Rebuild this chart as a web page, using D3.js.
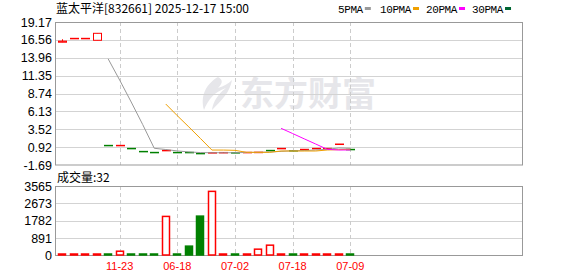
<!DOCTYPE html>
<html>
    <head>
        <title>K线</title>
        <script src="https://d3js.org/d3.v7.min.js"></script>
        <meta charset="UTF-8">
        <style>
            body { margin: 0; background: #fff; }
        </style>
    </head>
    <body>
        <script>
            var w = 578;
            var h = 276;

            // candles (index 0..25)
            var open  = [16.22, 16.79, 16.79, 16.50, 1.18, 1.18, 0.74, 0.30, 0.16, 0.45, 0.16, 0.16, 0.01, 0.12, 0.14, 0.12, 0.16, 0.18, 0.45, 0.74, 0.42, 0.60, 0.74, 0.74, 1.37, 0.60];
            var close = [16.38, 16.79, 16.79, 17.52, 1.18, 1.18, 0.74, 0.30, 0.16, 0.45, 0.16, 0.16, 0.01, 0.12, 0.14, 0.12, 0.16, 0.18, 0.45, 0.74, 0.42, 0.60, 0.74, 0.74, 1.37, 0.60];
            var high  = [16.65, 16.79, 16.79, 17.52, 1.18, 1.18, 0.74, 0.30, 0.16, 0.45, 0.16, 0.16, 0.01, 0.12, 0.14, 0.12, 0.16, 0.18, 0.45, 0.74, 0.42, 0.60, 0.74, 0.74, 1.37, 0.60];
            var low   = [16.22, 16.79, 16.79, 16.50, 1.18, 1.18, 0.74, 0.30, 0.16, 0.45, 0.16, 0.16, 0.01, 0.12, 0.14, 0.12, 0.16, 0.18, 0.45, 0.74, 0.42, 0.60, 0.74, 0.74, 1.37, 0.60];
            var candleDir = ["u","u","u","u","d","u","d","d","d","u","d","d","d","u","u","d","u","u","d","u","d","u","u","u","u","d"];
            var volume = [30, 25, 25, 30, 20, 220, 20, 20, 25, 2005, 25, 480, 2020, 3290, 20, 20, 25, 325, 530, 25, 20, 25, 25, 25, 30, 32];
            var volDir = ["u","u","u","u","d","u","d","d","d","u","d","d","d","u","u","d","u","u","u","u","d","u","u","u","u","d"];

            var ma5  = [null, null, null, null, 13.8, 10.7, 7.5, 4.2, 0.75, 0.57, 0.36, 0.22, 0.12, 0.10, 0.10, 0.10, 0.14, 0.16, 0.20, 0.30, 0.39, 0.42, 0.50, 0.60, 0.80, 0.75];
            var ma10 = [null, null, null, null, null, null, null, null, null, 7.2, 5.5, 3.86, 2.19, 0.49, 0.49, 0.45, 0.16, 0.16, 0.16, 0.35, 0.35, 0.35, 0.35, 0.50, 0.55, 0.60];
            var ma20 = [null, null, null, null, null, null, null, null, null, null, null, null, null, null, null, null, null, null, null, 3.66, 2.9, 2.13, 1.37, 0.60, 0.50, 0.50];

            var priceTicks = [19.17, 16.56, 13.96, 11.35, 8.74, 6.13, 3.52, 0.92, -1.69];
            var volTicks = [0, 891, 1782, 2673, 3565];
            var dateIdx = [5, 10, 15, 20, 25];
            var dateLabels = ["11-23", "06-18", "07-02", "07-18", "07-09"];

            var left = 55.5, right = 522.5;
            var pTop = 22, pBottom = 165;
            var vTop = 186, vBottom = 255.5;
            var red = "#ff0000", green = "#008000";

            var svg = d3.select("body")
                    .append("svg")
                    .attr("width", w)
                    .attr("height", h);

            var x = d3.scaleLinear().domain([0, 25]).range([62, 350.3]);
            var y = d3.scaleLinear().domain([-1.69, 19.17]).range([pBottom, pTop]);
            var yv = d3.scaleLinear().domain([0, 3565]).range([vBottom, vTop]);

            // watermark
            var wm = svg.append("g").attr("fill", "#e6e6ea");
            wm.append("path")
                    .attr("d", "M218,77 C206,84 200,96 204,110 C208,100 214,92 226,88 C218,94 213,102 212,110 C222,100 230,92 232,80 C228,84 224,86 218,88 C222,84 224,80 218,77 Z");
            wm.append("text")
                    .attr("x", 240).attr("y", 106)
                    .attr("font-family", "Noto Sans CJK SC")
                    .attr("font-weight", "bold")
                    .attr("font-size", 34)
                    .text("东方财富");

            // grids
            svg.selectAll(".hg")
                    .data(priceTicks.slice(1, -1))
                    .enter().append("line")
                    .attr("x1", left).attr("x2", right)
                    .attr("y1", function (d) { return Math.round(y(d)) + 0.5; })
                    .attr("y2", function (d) { return Math.round(y(d)) + 0.5; })
                    .attr("stroke", "#d3d3d3");
            svg.selectAll(".hv")
                    .data(volTicks.slice(1, -1))
                    .enter().append("line")
                    .attr("x1", left).attr("x2", right)
                    .attr("y1", function (d) { return Math.round(yv(d)) + 0.5; })
                    .attr("y2", function (d) { return Math.round(yv(d)) + 0.5; })
                    .attr("stroke", "#d3d3d3");
            [[pTop, pBottom], [vTop, vBottom]].forEach(function (r) {
                svg.selectAll(null)
                        .data(dateIdx)
                        .enter().append("line")
                        .attr("x1", function (d) { return Math.round(x(d)) + 0.5; })
                        .attr("x2", function (d) { return Math.round(x(d)) + 0.5; })
                        .attr("y1", r[0]).attr("y2", r[1])
                        .attr("stroke", "#cccccc")
                        .attr("stroke-dasharray", "4,3");
                svg.append("rect")
                        .attr("x", left).attr("y", r[0] + 0.5)
                        .attr("width", right - left).attr("height", r[1] - r[0] - 0.5)
                        .attr("fill", "none")
                        .attr("stroke", "#999999");
            });

            // axes labels
            svg.selectAll(".pl")
                    .data(priceTicks)
                    .enter().append("text")
                    .attr("x", 52)
                    .attr("y", function (d) { return y(d) + 4.5; })
                    .attr("text-anchor", "end")
                    .attr("font-family", "Liberation Sans, Arial")
                    .attr("font-size", 12.5)
                    .text(function (d) { return d.toFixed(2); });
            svg.selectAll(".vl")
                    .data(volTicks)
                    .enter().append("text")
                    .attr("x", 52)
                    .attr("y", function (d) { return yv(d) + 4.5; })
                    .attr("text-anchor", "end")
                    .attr("font-family", "Liberation Sans, Arial")
                    .attr("font-size", 12.5)
                    .text(function (d) { return d; });
            svg.selectAll(".dl")
                    .data(dateIdx)
                    .enter().append("text")
                    .attr("x", function (d) { return x(d); })
                    .attr("y", 270)
                    .attr("text-anchor", "middle")
                    .attr("font-family", "Liberation Sans, Arial")
                    .attr("font-size", 11)
                    .attr("fill", red)
                    .text(function (d, i) { return dateLabels[i]; });

            // title and legend
            svg.append("text")
                    .attr("x", 56).attr("y", 13)
                    .attr("font-family", "Noto Sans CJK SC")
                    .attr("font-size", 12)
                    .text("蓝太平洋[832661] 2025-12-17 15:00");
            svg.append("text")
                    .attr("x", 57).attr("y", 182)
                    .attr("font-family", "Noto Sans CJK SC")
                    .attr("font-size", 12)
                    .text("成交量:" + volume[volume.length - 1]);
            var legend = [["5PMA", "#999999", 338], ["10PMA", "#f0a000", 380], ["20PMA", "#ff00ff", 426], ["30PMA", "#006633", 472]];
            legend.forEach(function (l) {
                var t = svg.append("text")
                        .attr("x", l[2]).attr("y", 13)
                        .attr("font-family", "Liberation Mono")
                        .attr("font-size", 11)
                        .attr("letter-spacing", -0.4)
                        .text(l[0]);
                var bw = t.node().getComputedTextLength();
                svg.append("rect")
                        .attr("x", l[2] + bw + 2).attr("y", 7)
                        .attr("width", 6).attr("height", 3)
                        .attr("fill", l[1]);
            });

            // volume bars
            svg.selectAll(".vb")
                    .data(volume)
                    .enter().append("rect")
                    .attr("x", function (d, i) { return Math.round(x(i)) - 3.5; })
                    .attr("y", function (d) { return Math.min(yv(d), vBottom - 1.5); })
                    .attr("width", 7)
                    .attr("height", function (d) { return Math.max(1, vBottom - yv(d) - 0.5); })
                    .attr("fill", function (d, i) { return volDir[i] === "u" ? "#fff" : green; })
                    .attr("stroke", function (d, i) { return volDir[i] === "u" ? red : green; })
                    .attr("stroke-width", 1.5);

            // candles
            var c = svg.selectAll(".cd")
                    .data(open)
                    .enter().append("g");
            c.append("line")
                    .attr("x1", function (d, i) { return Math.round(x(i)) + 0.5; })
                    .attr("x2", function (d, i) { return Math.round(x(i)) + 0.5; })
                    .attr("y1", function (d, i) { return y(high[i]); })
                    .attr("y2", function (d, i) { return y(low[i]); })
                    .attr("stroke", function (d, i) { return candleDir[i] === "u" ? red : green; });
            c.append("rect")
                    .attr("x", function (d, i) { return Math.round(x(i)) - 3.5; })
                    .attr("y", function (d, i) { return Math.min(y(open[i]), y(close[i])); })
                    .attr("width", 8)
                    .attr("height", function (d, i) { return Math.max(0.5, Math.abs(y(open[i]) - y(close[i]))); })
                    .attr("fill", function (d, i) {
                        return candleDir[i] === "u" && open[i] !== close[i] ? "#fff" : (candleDir[i] === "u" ? red : green);
                    })
                    .attr("stroke", function (d, i) { return candleDir[i] === "u" ? red : green; })
                    .attr("stroke-width", 1);

            // moving averages
            [[ma5, "#999999"], [ma10, "#f0a000"], [ma20, "#ff00ff"]].forEach(function (m) {
                var line = d3.line()
                        .defined(function (d) { return d !== null; })
                        .x(function (d, i) { return x(i); })
                        .y(function (d) { return y(d); });
                svg.append("path")
                        .datum(m[0])
                        .attr("d", line)
                        .attr("fill", "none")
                        .attr("stroke", m[1])
                        .attr("stroke-width", 1);
            });
        </script>
    </body>
</html>
